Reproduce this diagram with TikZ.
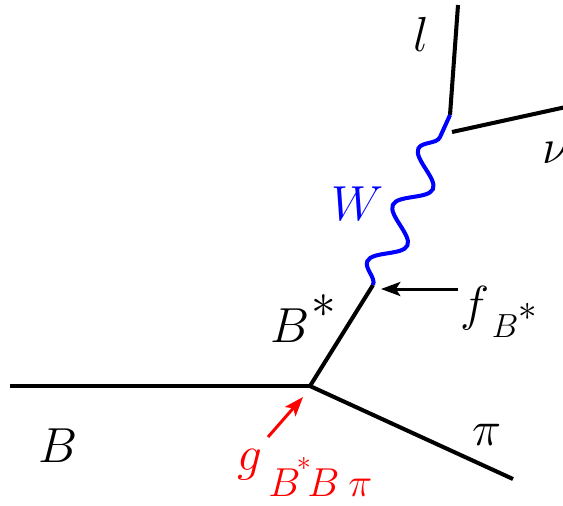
\RequirePackage{fix-cm}
\documentclass[tikz,border=0pt]{standalone}
\usetikzlibrary{decorations.pathmorphing,arrows.meta}
\newcommand{\fsz}[1]{\fontsize{#1}{#1}\selectfont}
\begin{document}
\begin{tikzpicture}[x=0.02cm,y=-0.02cm,
  fermion/.style={line width=2.3pt},
  boson/.style={blue,line width=2.3pt,decorate,decoration={snake,amplitude=0.3cm,segment length=1.237cm}},
  lbl/.style={anchor=base west,inner sep=0pt,font=\fsz{28}},
  ptr/.style={line width=1.7pt,-{Stealth[length=11pt,width=8pt,inset=2.5pt]}}]
\useasboundingbox (0,0) rectangle (563,505);
\coordinate (Bin) at (10,386);
\coordinate (v1) at (310,386);
\coordinate (piout) at (513,479);
\coordinate (v2) at (373,285);
\coordinate (v3) at (450,115);
\coordinate (lout) at (458,5);
\coordinate (nuin) at (452,132);
\coordinate (nuout) at (575,105);
\coordinate (fa) at (458,289);
\coordinate (fb) at (381,289);
\coordinate (ga) at (268,437);
\coordinate (gb) at (303,397);
% lines
\draw[fermion] (Bin) -- (v1);
\draw[fermion] (v1) -- (piout);
\draw[fermion] (v1) -- (v2);
\draw[fermion] (v3) -- (lout);
\draw[fermion] (nuin) -- (nuout);
\draw[boson] (v2) -- (v3);
% arrows
\draw[ptr] (fa) -- (fb);
\draw[ptr,red] (ga) -- (gb);
% labels
\node[lbl] (l) at (413,51) {$l$};
\node[lbl] (nu) at (542,163) {$\nu$};
\node[lbl,text=blue] (W) at (331,220) {$W$};
\node[lbl] (Bs) at (270,342) {$B$\hspace{1pt}\raisebox{14pt}{$\ast$}};
\node[lbl] (f) at (460,320) {$f$\hspace{1.5pt}\raisebox{-10pt}{\fsz{19}$B$\raisebox{10pt}{\fsz{21}$\ast$}}};
\node[lbl] (B) at (38,462) {$B$};
\node[lbl] (pi) at (472,445) {$\pi$};
\node[lbl,text=red] (g) at (237,470) {$g$\hspace{3.5pt}\raisebox{-15pt}{\fsz{23}$B$\hspace{-2pt}\raisebox{15pt}{\fsz{16}$\ast$}\hspace{-2pt}$B$\hspace{5pt}$\pi$}};
\end{tikzpicture}
\end{document}
